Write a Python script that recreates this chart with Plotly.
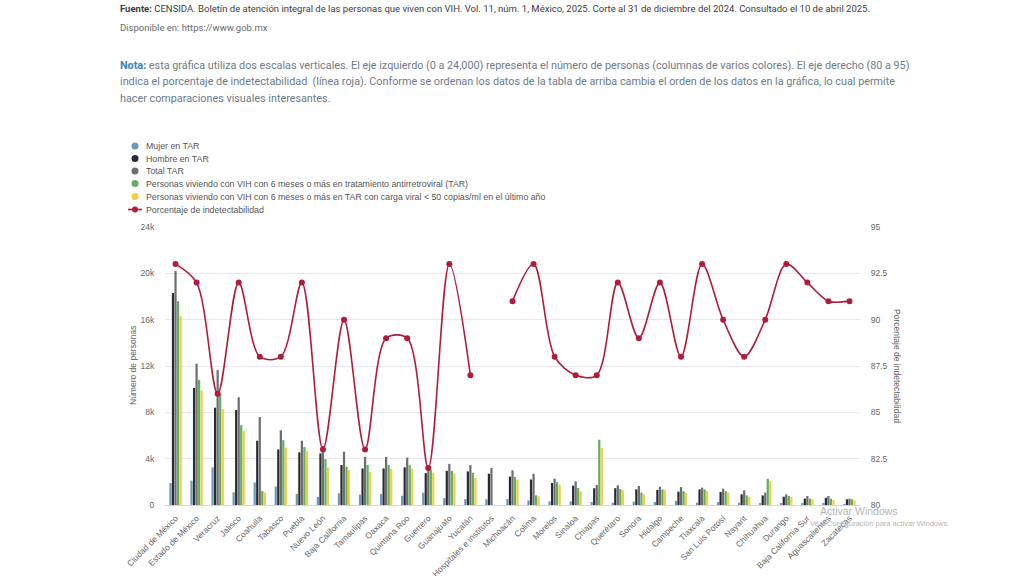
import plotly.graph_objects as go

states = ["Ciudad de México", "Estado de México", "Veracruz", "Jalisco", "Coahuila", "Tabasco",
          "Puebla", "Nuevo León", "Baja California", "Tamaulipas", "Oaxaca", "Quintana Roo",
          "Guerrero", "Guanajuato", "Yucatán", "Hospitales e institutos", "Michoacán", "Colima",
          "Morelos", "Sinaloa", "Chiapas", "Querétaro", "Sonora", "Hidalgo", "Campeche",
          "Tlaxcala", "San Luis Potosí", "Nayarit", "Chihuahua", "Durango",
          "Baja California Sur", "Aguascalientes", "Zacatecas"]

mujer = [1900, 2100, 3250, 1100, 1950, 1600, 950, 700, 1000, 900, 950, 800, 1050, 600, 520, 500,
         520, 400, 320, 320, 260, 200, 290, 260, 350, 200, 260, 200, 150, 100, 90, 90, 70]
hombre = [18300, 10100, 8400, 8200, 5550, 4800, 4550, 4450, 3450, 3150, 3150, 3250, 2750, 2950,
          2900, 2700, 2450, 2200, 1900, 1670, 1450, 1450, 1350, 1300, 1150, 1350, 1120, 920, 830,
          720, 550, 630, 490]
total = [20200, 12200, 11650, 9300, 7600, 6450, 5550, 5100, 4600, 4150, 4150, 4100, 3350, 3550,
         3450, 3200, 3000, 2700, 2270, 2040, 1730, 1700, 1640, 1580, 1550, 1500, 1410, 1270, 1070,
         920, 780, 780, 550]
tar6 = [17600, 10800, 9600, 6900, 1200, 5600, 5000, 3950, 3300, 3450, 3450, 3450, 3050, 2950,
        2780, None, 2420, 830, 1960, 1470, 5640, 1380, 1070, 1350, 1200, 1350, 1200, 830, 2270,
        780, 550, 550, 490]
cv50 = [16300, 9900, 8300, 6400, 1070, 4950, 4650, 3250, 3000, 2850, 3100, 3100, 2800, 2720,
        2350, None, 2200, 750, 1750, 1180, 4920, 1270, 920, 1270, 1070, 1200, 1070, 720, 2070,
        690, 490, 430, 400]
pct = [93, 92, 86, 92, 88, 88, 92, 83, 90, 83, 89, 89, 82, 93, 87, None, 91, 93, 88, 87, 87, 92,
       89, 92, 88, 93, 90, 88, 90, 93, 92, 91, 91]

left_ticks = [0, 4000, 8000, 12000, 16000, 20000, 24000]
left_ticktext = ["0", "4k", "8k", "12k", "16k", "20k", "24k"]
right_ticks = [80, 82.5, 85, 87.5, 90, 92.5, 95]
right_ticktext = ["80", "82.5", "85", "87.5", "90", "92.5", "95"]

series_names = ["Mujer en TAR", "Hombre en TAR", "Total TAR",
                "Personas viviendo con VIH con 6 meses o más en tratamiento antirretroviral (TAR)",
                "Personas viviendo con VIH con 6 meses o más en TAR con carga viral < 50 copias/ml en el último año"]
line_name = "Porcentaje de indetectabilidad"
colors = ["#6f98b5", "#262b36", "#6e6e6e", "#62ad62", "#f1cf45"]
line_color = "#b01c3c"

W, H = 1024, 576
L, R, T, B = 165, 860, 227, 505

def px(x):
    return (x - L) / (R - L)

def py(y):
    return (B - y) / (B - T)

fig = go.Figure()
for name, vals, col in zip(series_names, [mujer, hombre, total, tar6, cv50], colors):
    fig.add_trace(go.Bar(x=states, y=vals, name=name, marker_color=col,
                         marker_line_width=0, showlegend=False))

fig.add_trace(go.Scatter(x=states, y=pct, name=line_name, yaxis="y2", mode="lines+markers",
                         line=dict(color=line_color, width=1.6, shape="spline", smoothing=0.9),
                         marker=dict(color=line_color, size=6), connectgaps=False,
                         showlegend=False))

font_main = "Liberation Sans, Arial, sans-serif"
font_head = "Roboto, Liberation Sans, sans-serif"

annotations = []
shapes = []

# Header text
annotations.append(dict(x=px(118), y=py(8), xref="paper", yref="paper", xanchor="left",
                        yanchor="middle", showarrow=False,
                        text="<b>Fuente:</b> CENSIDA. Boletín de atención integral de las personas que viven con VIH. Vol. 11, núm. 1, México, 2025. Corte al 31 de diciembre del 2024. Consultado el 10 de abril 2025.",
                        font=dict(family=font_head, size=9.5, color="#3c3c3c")))
annotations.append(dict(x=px(118), y=py(27), xref="paper", yref="paper", xanchor="left",
                        yanchor="middle", showarrow=False,
                        text="Disponible en: https://www.gob.mx",
                        font=dict(family=font_head, size=9.5, color="#6a6a6a")))
nota_lines = [
    "<b><span style='color:#3b82b8'>Nota:</span></b> esta gráfica utiliza dos escalas verticales. El eje izquierdo (0 a 24,000) representa el número de personas (columnas de varios colores). El eje derecho (80 a 95)",
    "indica el porcentaje de indetectabilidad  (línea roja). Conforme se ordenan los datos de la tabla de arriba cambia el orden de los datos en la gráfica, lo cual permite",
    "hacer comparaciones visuales interesantes.",
]
for i, t in enumerate(nota_lines):
    annotations.append(dict(x=px(118), y=py(65 + i * 16.5), xref="paper", yref="paper",
                            xanchor="left", yanchor="middle", showarrow=False, text=t,
                            font=dict(family=font_head, size=10.8, color="#6b7a88")))

# Legend (manual, vertical list with circle symbols)
leg_y = [146, 158.5, 171, 183.5, 196.5, 209.5]
for i, (name, col) in enumerate(zip(series_names, colors)):
    yy = leg_y[i]
    shapes.append(dict(type="circle", xref="paper", yref="paper",
                       x0=px(131.5), x1=px(138.5), y0=py(yy + 3.5), y1=py(yy - 3.5),
                       fillcolor=col, line=dict(width=0)))
    annotations.append(dict(x=px(144), y=py(yy), xref="paper", yref="paper", xanchor="left",
                            yanchor="middle", showarrow=False, text=name,
                            font=dict(family=font_main, size=8.8, color="#555555")))
yy = leg_y[5]
shapes.append(dict(type="line", xref="paper", yref="paper", x0=px(128), x1=px(142),
                   y0=py(yy), y1=py(yy), line=dict(color=line_color, width=1.6)))
shapes.append(dict(type="circle", xref="paper", yref="paper",
                   x0=px(132), x1=px(138), y0=py(yy + 3), y1=py(yy - 3),
                   fillcolor=line_color, line=dict(width=0)))
annotations.append(dict(x=px(144), y=py(yy), xref="paper", yref="paper", xanchor="left",
                        yanchor="middle", showarrow=False, text=line_name,
                        font=dict(family=font_main, size=8.8, color="#555555")))

# Axis titles
annotations.append(dict(x=px(133), y=0.5, xref="paper", yref="paper", xanchor="center",
                        yanchor="middle", showarrow=False, text="Número de personas",
                        textangle=-90, font=dict(family=font_main, size=8.5, color="#666666")))
annotations.append(dict(x=px(897), y=0.5, xref="paper", yref="paper", xanchor="center",
                        yanchor="middle", showarrow=False, text="Porcentaje de indetectabilidad",
                        textangle=90, font=dict(family=font_main, size=8.5, color="#666666")))

# Screen watermark
annotations.append(dict(x=px(818), y=py(511), xref="paper", yref="paper", xanchor="left",
                        yanchor="middle", showarrow=False, text="Activar Windows",
                        font=dict(family=font_main, size=10.5, color="#b5b5b5")))
annotations.append(dict(x=px(808), y=py(523), xref="paper", yref="paper", xanchor="left",
                        yanchor="middle", showarrow=False,
                        text="Ve a Configuración para activar Windows.",
                        font=dict(family=font_main, size=7.5, color="#b5b5b5")))

fig.update_layout(
    width=W, height=H,
    margin=dict(l=L, r=W - R, t=T, b=H - B, pad=0),
    paper_bgcolor="white", plot_bgcolor="white",
    barmode="group", bargap=0.4, bargroupgap=0.12,
    showlegend=False,
    font=dict(family=font_main, size=9, color="#666666"),
    xaxis=dict(type="category", range=[-0.5, len(states) - 0.5], autorange=False,
               tickangle=-45, tickfont=dict(size=8.5, color="#666666"),
               showgrid=False, showline=True, linecolor="#ccd6eb", linewidth=1,
               ticks="outside", ticklen=4, tickcolor="rgba(0,0,0,0)", automargin=False),
    yaxis=dict(range=[0, 24000], tickvals=left_ticks, ticktext=left_ticktext,
               showgrid=True, gridcolor="#e8e8e8", gridwidth=1, zeroline=False,
               tickfont=dict(size=8.5, color="#666666"), ticks="outside", ticklen=8,
               tickcolor="rgba(0,0,0,0)", automargin=False),
    yaxis2=dict(range=[80, 95], tickvals=right_ticks, ticktext=right_ticktext,
                overlaying="y", side="right", showgrid=False, zeroline=False,
                tickfont=dict(size=8.5, color="#666666"), ticks="outside", ticklen=8,
                tickcolor="rgba(0,0,0,0)", automargin=False),
    annotations=annotations,
    shapes=shapes,
)

fig.write_html("out.html", config={"displayModeBar": False},
               post_script="document.body.style.margin='0';document.body.style.overflow='hidden';")
